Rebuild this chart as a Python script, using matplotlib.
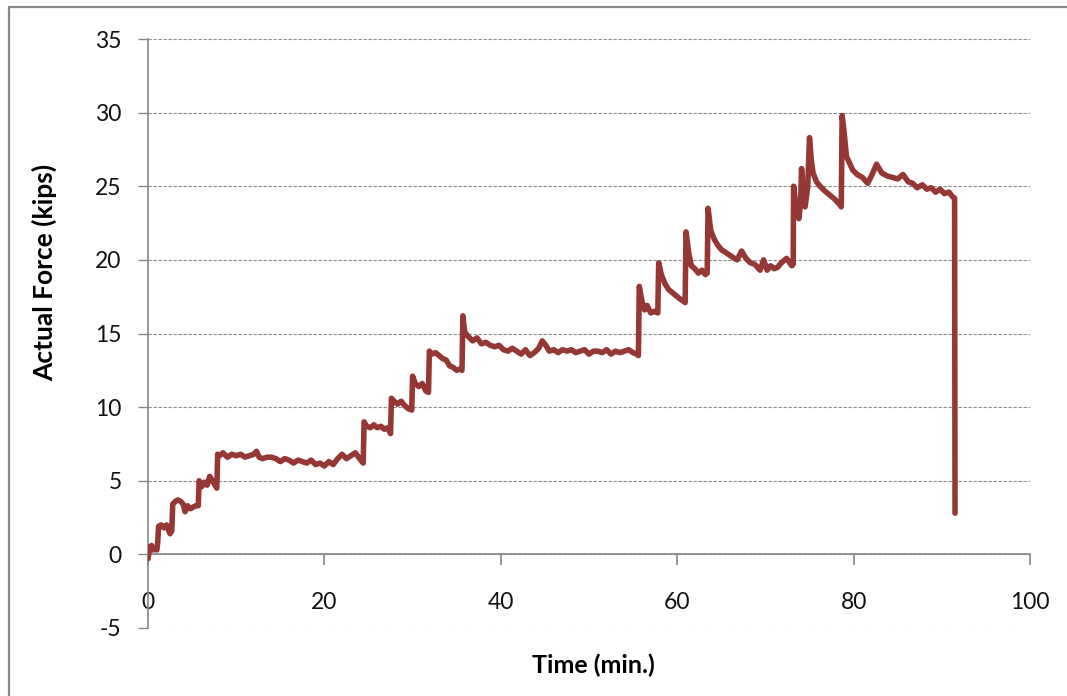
import matplotlib
matplotlib.use("Agg")
import matplotlib.pyplot as plt
from matplotlib.patches import Rectangle

# Time (min.) and Actual Force (kips) (one line per segment, same lengths)
time_min = [
    0.0, 0.2, 0.4, 0.6, 0.8, 1.0, 1.1, 1.2, 1.5, 1.8, 2.1, 2.3, 2.5, 2.7,
    2.8, 3.1, 3.4, 3.7, 4.0, 4.2, 4.5, 4.8, 5.1, 5.4, 5.7,
    5.8, 6.1, 6.4, 6.7, 7.0, 7.3, 7.6, 7.8,
    7.9, 8.1, 8.5, 9.0, 9.5, 10.0, 10.5, 11.0, 11.5, 12.0, 12.3,
    12.6, 13.0, 13.5, 14.0, 14.5, 15.0, 15.5, 16.0, 16.5, 17.0, 17.5, 18.0,
    18.5, 19.0, 19.5, 20.0, 20.5, 21.0, 21.5, 22.0, 22.5, 23.0, 23.5, 24.0, 24.4,
    24.5, 24.8, 25.2, 25.6, 26.0, 26.4, 26.8, 27.2, 27.5,
    27.6, 27.9, 28.3, 28.7, 29.1, 29.5, 29.9,
    30.0, 30.3, 30.7, 31.1, 31.5, 31.8,
    31.9, 32.2, 32.6, 33.0, 33.4, 33.8, 34.2, 34.6, 35.0, 35.4, 35.6,
    35.7, 35.9, 36.3, 36.8, 37.3, 37.8, 38.3, 38.8, 39.3, 39.8, 40.3, 40.8,
    41.3, 41.8, 42.3, 42.8, 43.3, 43.8, 44.3, 44.7, 45.1, 45.5, 46.0, 46.5,
    47.0, 47.5, 48.0, 48.5, 49.0, 49.5, 50.0, 50.5, 51.0, 51.5, 52.0, 52.5,
    53.0, 53.5, 54.0, 54.5, 55.0, 55.4, 55.6,
    55.7, 56.0, 56.3, 56.6, 57.0, 57.4, 57.8,
    57.9, 58.2, 58.6, 59.0, 59.4, 59.8, 60.2, 60.7, 60.9,
    61.0, 61.3, 61.6, 62.0, 62.4, 62.8, 63.2, 63.4,
    63.5, 63.8, 64.2, 64.6, 65.0, 65.5, 66.0, 66.5, 66.8, 67.3, 67.8, 68.3,
    68.8, 69.4, 69.8, 70.2, 70.6, 71.0, 71.4, 71.8, 72.4, 73.0, 73.15,
    73.2, 73.5, 73.8, 74.0, 74.1, 74.3, 74.5, 74.8,
    75.0, 75.2, 75.4, 75.8, 76.2, 76.7, 77.3, 77.9, 78.5, 78.6,
    78.7, 78.9, 79.2, 79.6, 79.9, 80.4, 81.0, 81.6, 82.1, 82.6, 83.2, 83.8,
    84.4, 85.0, 85.6, 86.2, 86.7, 87.2, 87.8, 88.3, 88.8, 89.3, 89.8, 90.3,
    90.8, 91.2, 91.45,
    91.5,
]
force_kips = [
    -0.3, 0.5, 0.6, 0.3, 0.4, 0.3, 0.8, 1.9, 2.0, 1.8, 2.0, 1.7, 1.4, 1.6,
    3.4, 3.6, 3.7, 3.6, 3.4, 2.9, 3.3, 3.1, 3.2, 3.3, 3.3,
    5.0, 4.6, 4.9, 4.7, 5.3, 5.0, 4.7, 4.5,
    6.8, 6.7, 6.9, 6.6, 6.8, 6.7, 6.8, 6.6, 6.7, 6.8, 7.0,
    6.6, 6.5, 6.6, 6.6, 6.5, 6.3, 6.5, 6.4, 6.2, 6.4, 6.3, 6.2,
    6.4, 6.1, 6.2, 6.0, 6.3, 6.1, 6.5, 6.8, 6.5, 6.7, 6.9, 6.5, 6.2,
    9.0, 8.7, 8.6, 8.8, 8.6, 8.7, 8.5, 8.6, 8.2,
    10.6, 10.4, 10.2, 10.4, 10.1, 9.9, 9.8,
    12.1, 11.6, 11.4, 11.6, 11.1, 11.0,
    13.8, 13.6, 13.7, 13.5, 13.3, 13.2, 12.8, 12.7, 12.5, 12.6, 12.5,
    16.2, 15.1, 14.8, 14.5, 14.7, 14.3, 14.4, 14.2, 14.1, 14.2, 13.9, 13.8,
    14.0, 13.8, 13.6, 13.9, 13.5, 13.7, 14.0, 14.5, 14.2, 13.8, 13.9, 13.7,
    13.9, 13.8, 13.9, 13.7, 13.8, 13.9, 13.6, 13.8, 13.8, 13.7, 13.9, 13.6,
    13.8, 13.7, 13.8, 13.9, 13.7, 13.6, 13.5,
    18.2, 17.2, 16.6, 16.9, 16.4, 16.5, 16.4,
    19.8, 19.0, 18.4, 18.0, 17.8, 17.6, 17.4, 17.2, 17.1,
    21.9, 20.5, 19.6, 19.4, 19.1, 19.3, 19.0, 19.1,
    23.5, 22.0, 21.4, 21.0, 20.7, 20.5, 20.3, 20.1, 20.0, 20.6, 20.1, 19.8,
    19.7, 19.3, 20.0, 19.3, 19.6, 19.4, 19.5, 19.8, 20.1, 19.6, 19.7,
    25.0, 23.5, 22.8, 24.0, 26.2, 24.5, 23.6, 25.0,
    28.3, 26.8, 25.9, 25.3, 25.0, 24.7, 24.4, 24.1, 23.7, 23.6,
    29.8, 28.8, 27.0, 26.5, 26.1, 25.8, 25.6, 25.2, 25.8, 26.5, 25.9, 25.7,
    25.6, 25.5, 25.8, 25.3, 25.2, 24.9, 25.1, 24.8, 24.9, 24.6, 24.8, 24.5,
    24.6, 24.3, 24.2,
    2.8,
]
n = min(len(time_min), len(force_kips))
time_min, force_kips = time_min[:n], force_kips[:n]

fig = plt.figure(figsize=(10.67, 6.96), dpi=100)
fig.patch.set_facecolor("white")

# chart border (left and top edges visible)
fig.patches.append(Rectangle((9 / 1067, -0.05), 1.2, 1 - 7.5 / 696 + 0.05,
                             transform=fig.transFigure, fill=False,
                             edgecolor="#888888", linewidth=1.6, zorder=0))

ax = fig.add_axes([148 / 1067, 1 - 628 / 696, (1030 - 148) / 1067, (628 - 39) / 696])
ax.set_xlim(0, 100)
ax.set_ylim(-5, 35)

ax.plot(time_min, force_kips, color="#953735", linewidth=4.0,
        solid_joinstyle="round", solid_capstyle="round", zorder=3)

ax.set_xticks([0, 20, 40, 60, 80, 100])
ax.set_yticks([-5, 0, 5, 10, 15, 20, 25, 30, 35])
ax.set_yticklabels(["-5", "0", "5", "10", "15", "20", "25", "30", "35"])

axis_color = "#868686"
for s in ["top", "right"]:
    ax.spines[s].set_visible(False)
ax.spines["bottom"].set_position(("data", 0))
ax.spines["bottom"].set_color(axis_color)
ax.spines["left"].set_color(axis_color)
ax.spines["bottom"].set_linewidth(1.2)
ax.spines["left"].set_linewidth(1.2)

ax.yaxis.grid(True, linestyle=(0, (3, 1.5)), color="#8c8c8c", linewidth=0.8)
ax.set_axisbelow(True)

font = "Lato"
ax.tick_params(axis="x", direction="out", length=8, width=1.2, color=axis_color,
               pad=19, labelsize=16.5, labelcolor="#111111")
ax.tick_params(axis="y", direction="out", length=7, width=1.0, color=axis_color,
               pad=12, labelsize=16.5, labelcolor="#111111")
for lab in ax.get_xticklabels() + ax.get_yticklabels():
    lab.set_fontfamily(font)

fig.text(593 / 1067, 1 - 665 / 696, "Time (min.)", ha="center", va="center",
         fontsize=18, fontweight="bold", fontfamily=font)
fig.text(44 / 1067, 1 - 272 / 696, "Actual Force (kips)", ha="center", va="center",
         rotation=90, fontsize=19, fontweight="bold", fontfamily=font)

fig.savefig("out.png", dpi=100)
